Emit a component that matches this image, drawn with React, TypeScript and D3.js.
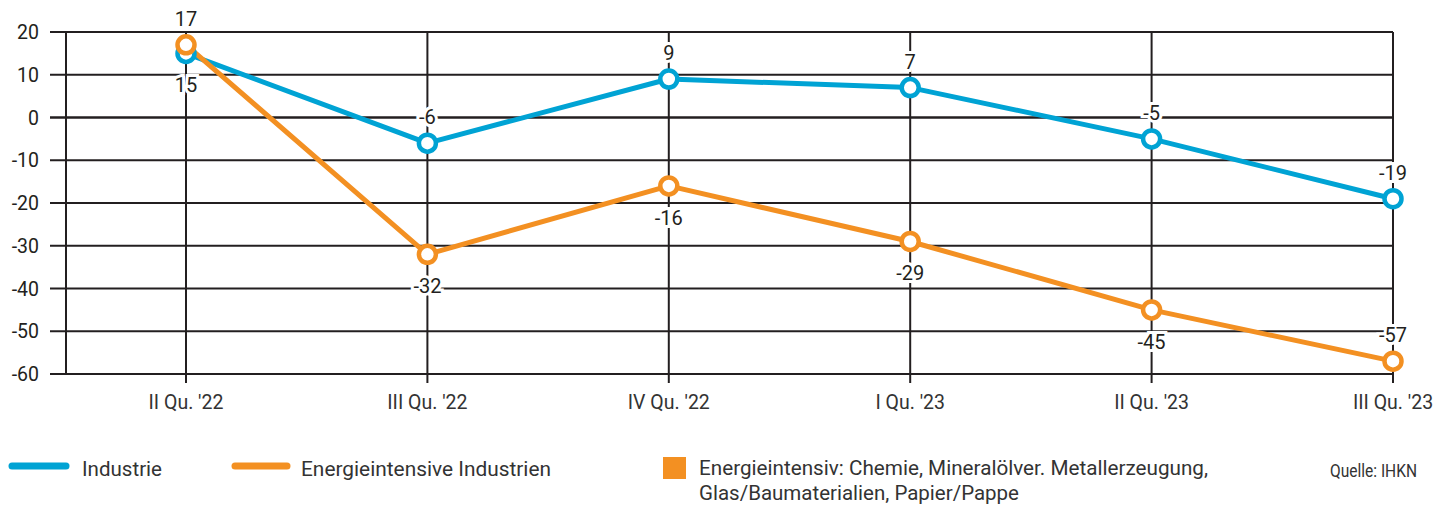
import React from "react";
import * as d3 from "d3";

const CATEGORIES = ["II Qu. '22", "III Qu. '22", "IV Qu. '22", "I Qu. '23", "II Qu. '23", "III Qu. '23"];
const INDUSTRIE = [15, -6, 9, 7, -5, -19];
const ENERGIE = [17, -32, -16, -29, -45, -57];
// label placement: true = above the point
const INDUSTRIE_ABOVE = [false, true, true, true, true, true];
const ENERGIE_ABOVE = [true, false, false, false, false, true];
const Y_TICKS = [20, 10, 0, -10, -20, -30, -40, -50, -60];

const BLUE = "#00a3d4";
const ORANGE = "#f39022";
const INK = "#231f20";
const TEXT = "#333";
const FONT = "Roboto, 'Open Sans', sans-serif";

const W = 1451;
const H = 507;

export default function App() {
  const x = d3.scalePoint<string>().domain(CATEGORIES).range([186, 1393]);
  const y = d3.scaleLinear().domain([-60, 20]).range([374, 32]);
  const left = 66;
  const gridStart = 50;
  const right = x(CATEGORIES[CATEGORIES.length - 1]) as number;

  const line = d3
    .line<number>()
    .x((_, i) => x(CATEGORIES[i]) as number)
    .y((d) => y(d));

  const series = [
    { name: "Industrie", values: INDUSTRIE, above: INDUSTRIE_ABOVE, color: BLUE },
    { name: "Energieintensive Industrien", values: ENERGIE, above: ENERGIE_ABOVE, color: ORANGE },
  ];

  return (
    <svg
      width={W}
      height={H}
      viewBox={`0 0 ${W} ${H}`}
      style={{ position: "absolute", left: 0, top: 0, background: "#fff" }}
    >
      {/* horizontal gridlines + y ticks */}
      {Y_TICKS.map((t) => (
        <g key={t}>
          <line x1={gridStart} x2={right} y1={y(t)} y2={y(t)} stroke={INK} strokeWidth={t === 0 ? 2.6 : 2} />
          <text x={39} y={y(t) + 7} textAnchor="end" fontFamily={FONT} fontSize={19.5} fill={INK}>
            {t}
          </text>
        </g>
      ))}
      {/* left border */}
      <line x1={left} x2={left} y1={y(20)} y2={y(-60)} stroke={INK} strokeWidth={2} />
      {/* category lines and labels */}
      {CATEGORIES.map((c) => (
        <g key={c}>
          <line x1={x(c)} x2={x(c)} y1={y(20)} y2={y(-60) + 9} stroke={INK} strokeWidth={2} />
          <text x={x(c)} y={409} textAnchor="middle" fontFamily={FONT} fontSize={19.5} fill={TEXT}>
            {c}
          </text>
        </g>
      ))}
      {/* series lines */}
      {series.map((s) => (
        <path key={s.name} d={line(s.values) ?? ""} fill="none" stroke={s.color} strokeWidth={5} strokeLinejoin="round" />
      ))}
      {/* markers */}
      {series.map((s) =>
        s.values.map((v, i) => (
          <circle key={s.name + i} cx={x(CATEGORIES[i])} cy={y(v)} r={8.5} fill="#fff" stroke={s.color} strokeWidth={4.5} />
        ))
      )}
      {/* value labels */}
      {series.map((s) =>
        s.values.map((v, i) => (
          <text
            key={"l" + s.name + i}
            x={x(CATEGORIES[i])}
            y={s.above[i] ? y(v) - 19 : y(v) + 39}
            textAnchor="middle"
            fontFamily={FONT}
            fontSize={20}
            fill={INK}
            stroke="#fff"
            strokeWidth={6}
            paintOrder="stroke"
          >
            {v}
          </text>
        ))
      )}
      {/* legend */}
      <line x1={12} x2={66} y1={466} y2={466} stroke={BLUE} strokeWidth={7} strokeLinecap="round" />
      <text x={82} y={476} fontFamily={FONT} fontSize={20} fill={TEXT} textLength={80} lengthAdjust="spacingAndGlyphs">
        Industrie
      </text>
      <line x1={235} x2={287} y1={466} y2={466} stroke={ORANGE} strokeWidth={7} strokeLinecap="round" />
      <text x={301} y={476} fontFamily={FONT} fontSize={20} fill={TEXT} textLength={250} lengthAdjust="spacingAndGlyphs">
        Energieintensive Industrien
      </text>
      <rect x={663} y={457} width={23} height={22} fill={ORANGE} />
      <text x={699} y={475} fontFamily={FONT} fontSize={20} fill={TEXT} textLength={509} lengthAdjust="spacingAndGlyphs">
        Energieintensiv: Chemie, Mineralölver. Metallerzeugung,
      </text>
      <text x={699} y={500} fontFamily={FONT} fontSize={20} fill={TEXT} textLength={320} lengthAdjust="spacingAndGlyphs">
        Glas/Baumaterialien, Papier/Pappe
      </text>
      <text x={1330} y={477} fontFamily={FONT} fontSize={19} fill={TEXT} textLength={87} lengthAdjust="spacingAndGlyphs">
        Quelle: IHKN
      </text>
    </svg>
  );
}
